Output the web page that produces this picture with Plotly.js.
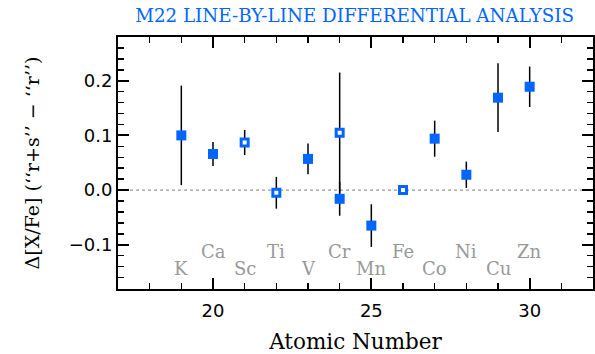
<!DOCTYPE html>
<html>
<head>
<meta charset="utf-8">
<script src="https://cdn.plot.ly/plotly-3.0.1.min.js"></script>
<style>
html,body{margin:0;padding:0;background:#fff;}
#chart{width:595px;height:354px;}
</style>
</head>
<body>
<div id="chart"></div>
<script>
// Elements and atomic numbers
const elements = ["K","Ca","Sc","Ti","V","Cr","Mn","Fe","Co","Ni","Cu","Zn"];
const atomicNumbers = [19,20,21,22,23,24,25,26,27,28,29,30];

// Filled points (line-by-line differential)
const filledZ = [19,20,23,24,25,27,28,29,30];
const filledVal = [0.100,0.066,0.057,-0.016,-0.065,0.094,0.028,0.169,0.189];
const filledErr = [0.091,0.022,0.028,0.031,0.039,0.033,0.024,0.063,0.037];

// Open points
const openZ = [21,22,24,26];
const openVal = [0.087,-0.005,0.105,0.000];
const openErr = [0.023,0.029,0.110,0.003];

const blue = "#0066FF";
const serif = "DejaVu Serif, Liberation Serif, serif";
const sans = "DejaVu Sans, Liberation Sans, sans-serif";

const traces = [
  {
    x: openZ, y: openVal, type: "scatter", mode: "markers",
    error_y: {type: "data", array: openErr, visible: true, color: "#000", thickness: 1.5, width: 0},
    marker: {symbol: "square", size: 7, color: "#fff", line: {color: blue, width: 3}},
    showlegend: false, hoverinfo: "skip"
  },
  {
    x: filledZ, y: filledVal, type: "scatter", mode: "markers",
    error_y: {type: "data", array: filledErr, visible: true, color: "#000", thickness: 1.5, width: 0},
    marker: {symbol: "square", size: 10, color: blue},
    showlegend: false, hoverinfo: "skip"
  }
];

const rowUpper = -0.113, rowLower = -0.143;
const annotations = elements.map((el, i) => ({
  x: atomicNumbers[i], y: (i % 2 === 0) ? rowLower : rowUpper,
  xref: "x", yref: "y", text: el, showarrow: false,
  font: {family: serif, size: 18, color: "#999999"},
  xanchor: "center", yanchor: "middle"
}));

const layout = {
  width: 595, height: 354,
  margin: {l: 118, r: 2, t: 37, b: 65},
  paper_bgcolor: "#fff", plot_bgcolor: "#fff",
  title: {text: "M22 LINE-BY-LINE DIFFERENTIAL ANALYSIS", font: {family: serif, size: 18.3, color: blue},
          x: 0.596, xanchor: "center", y: 0.955, yanchor: "middle"},
  xaxis: {
    range: [17, 32], tickvals: [20,25,30], ticktext: ["20","25","30"],
    ticks: "inside", ticklen: 11, tickwidth: 2, tickcolor: "#000",
    minor: {dtick: 1, tick0: 0, ticks: "inside", ticklen: 6, tickwidth: 1.5, tickcolor: "#000"},
    showline: true, linecolor: "#000", linewidth: 2, mirror: "allticks",
    showgrid: false, zeroline: false, ticklabelstandoff: 4,
    tickfont: {family: sans, size: 18, color: "#000"},
    title: {text: "Atomic Number", font: {family: serif, size: 21.5, color: "#000"}, standoff: 15}
  },
  yaxis: {
    range: [-0.181, 0.28], tickvals: [-0.1, 0, 0.1, 0.2], ticktext: ["−0.1","0.0","0.1","0.2"],
    ticks: "inside", ticklen: 11, tickwidth: 2, tickcolor: "#000",
    minor: {dtick: 0.02, tick0: 0, ticks: "inside", ticklen: 6, tickwidth: 1.5, tickcolor: "#000"},
    showline: true, linecolor: "#000", linewidth: 2, mirror: "allticks",
    showgrid: false, zeroline: false,
    tickfont: {family: sans, size: 18, color: "#000"},
    title: {text: "Δ[X/Fe] (‘‘r+s’’ − ‘‘r’’)", font: {family: serif, size: 19, color: "#000"}, standoff: 24}
  },
  shapes: [{type: "line", xref: "paper", x0: 0, x1: 1, yref: "y", y0: 0, y1: 0,
            line: {color: "#999", width: 1.2, dash: "dot"}, layer: "below"}],
  annotations: annotations
};

Plotly.newPlot("chart", traces, layout, {displayModeBar: false, staticPlot: true});
</script>
</body>
</html>
